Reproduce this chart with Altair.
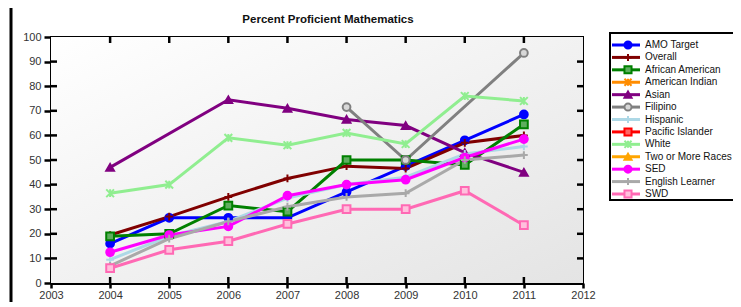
import altair as alt
import pandas as pd

years = [2004, 2005, 2006, 2007, 2008, 2009, 2010, 2011]

names = ["AMO Target", "Overall", "African American", "American Indian", "Asian",
         "Filipino", "Hispanic", "Pacific Islander", "White", "Two or More Races",
         "SED", "English Learner", "SWD"]

amo = [16.0, 26.5, 26.5, 26.5, 37.0, 47.5, 58.0, 68.5]
overall = [19.5, 27.0, 35.0, 42.5, 47.5, 46.5, 57.0, 60.0]
african_american = [19.0, 20.0, 31.5, 29.0, 50.0, 50.0, 48.0, 64.5]
american_indian = [None] * 8
asian = [47.0, None, 74.5, 71.0, 66.5, 64.0, 53.0, 45.0]
filipino = [None, None, None, None, 71.5, 50.0, None, 93.5]
hispanic = [9.5, 19.0, 25.0, 34.5, 40.0, 43.0, 52.5, 55.5]
pacific_islander = [None] * 8
white = [36.5, 40.0, 59.0, 56.0, 61.0, 56.5, 76.0, 74.0]
two_or_more = [None] * 8
sed = [12.5, 19.5, 23.0, 35.5, 40.0, 42.0, 51.0, 58.5]
english_learner = [7.0, 18.0, 25.0, 31.0, 35.0, 36.5, 50.0, 52.0]
swd = [6.0, 13.5, 17.0, 24.0, 30.0, 30.0, 37.5, 23.5]

series_values = [amo, overall, african_american, american_indian, asian, filipino,
                 hispanic, pacific_islander, white, two_or_more, sed,
                 english_learner, swd]

colors = ["#0000ff", "#800000", "#008000", "#ff8c00", "#800080", "#808080",
          "#add8e6", "#ff0000", "#90ee90", "#ffa500", "#ff00ff", "#a9a9a9", "#ff69b4"]
fills = ["#0000ff", "#800000", "#5fae5f", "#ff8c00", "#800080", "#d8d8d8",
         "#add8e6", "#ff6666", "#90ee90", "#ffa500", "#ff00ff", "#a9a9a9", "#ffc0dd"]
PLUS = "M-1,0H1M0,-1V1"
STAR = "M-1,-1L1,1M-1,1L1,-1M0,-1V1"
shapes = ["circle", PLUS, "square", STAR, "triangle-up", "circle", PLUS, "square",
          STAR, "triangle-up", "circle", PLUS, "square"]

x_ticks = list(range(2003, 2013))
y_ticks = list(range(0, 101, 10))

rows = []
for name, vals in zip(names, series_values):
    for yr, v in zip(years, vals):
        if v is not None:
            rows.append({"series": name, "year": yr, "value": v})
df = pd.DataFrame(rows)
legend_df = pd.DataFrame({"series": names})

W, H = 532, 246
FONT = "Liberation Sans"

color_s = alt.Color("series:N", scale=alt.Scale(domain=names, range=colors), legend=None)
fill_s = alt.Fill("series:N", scale=alt.Scale(domain=names, range=fills), legend=None)
shape_s = alt.Shape("series:N", scale=alt.Scale(domain=names, range=shapes), legend=None)

xq = alt.X("year:Q", scale=alt.Scale(domain=[2003, 2012], nice=False, zero=False),
           axis=alt.Axis(values=x_ticks, format="d", title=None, grid=False,
                         domainColor="black", domainWidth=3, tickColor="black",
                         tickWidth=2.5, tickSize=5, labelFont=FONT, labelFontSize=11,
                         labelColor="#333333", labelPadding=1, labelOverlap=False,
                         labelBound=False, labelFlush=False))
yq = alt.Y("value:Q", scale=alt.Scale(domain=[0, 100], nice=False),
           axis=alt.Axis(values=y_ticks, title=None, grid=False,
                         domainColor="black", domainWidth=3, tickColor="black",
                         tickWidth=2.5, tickSize=7, labelFont=FONT, labelFontSize=11,
                         labelColor="#333333", labelPadding=3, labelOverlap=False,
                         labelBound=False, labelFlush=False))

one = pd.DataFrame({"a": [0]})
bg = alt.Chart(one).mark_rect(
    fill=alt.Gradient(gradient="linear",
                      stops=[alt.GradientStop(color="#ffffff", offset=0),
                             alt.GradientStop(color="#e4e4e4", offset=1)],
                      x1=0, y1=0, x2=1, y2=1)
).encode(x=alt.value(0), x2=alt.value(W), y=alt.value(0), y2=alt.value(H))

xt = pd.DataFrame({"year": years})
yt = pd.DataFrame({"value": y_ticks[1:-1]})
top_ticks = alt.Chart(xt).mark_rule(color="black", strokeWidth=2.5).encode(
    x=xq, y=alt.value(0), y2=alt.value(6))
bot_ticks = alt.Chart(xt).mark_rule(color="black", strokeWidth=2.5).encode(
    x=xq, y=alt.value(H - 6), y2=alt.value(H))
left_ticks = alt.Chart(yt).mark_rule(color="black", strokeWidth=2.5).encode(
    y=yq, x=alt.value(0), x2=alt.value(6))
right_ticks = alt.Chart(yt).mark_rule(color="black", strokeWidth=2.5).encode(
    y=yq, x=alt.value(W - 6), x2=alt.value(W))

lines = alt.Chart(df).mark_line(strokeWidth=3).encode(
    x=xq, y=yq, color=color_s, detail="series:N", order="year:Q")
points = alt.Chart(df).mark_point(size=60, strokeWidth=2, opacity=1).encode(
    x=xq, y=yq, shape=shape_s, stroke=alt.Stroke("series:N",
    scale=alt.Scale(domain=names, range=colors), legend=None), fill=fill_s)

title = alt.Chart(one).mark_text(
    text="Percent Proficient Mathematics", font=FONT, fontSize=11.5,
    fontWeight="bold", color="#111111", align="center", baseline="middle"
).encode(x=alt.value(277), y=alt.value(-17))

side_bar = alt.Chart(one).mark_rule(color="black", strokeWidth=3).encode(
    x=alt.value(-40), y=alt.value(-37), y2=alt.value(270))

main = alt.layer(bg, top_ticks, bot_ticks, left_ticks, right_ticks, lines, points,
                 title, side_bar)

ly = alt.Y("series:N", scale=alt.Scale(type="point", domain=names, range=[8, 157],
                                       padding=0), axis=None)
lbox = alt.Chart(one).mark_rect(fill="white", stroke="black", strokeWidth=2).encode(
    x=alt.value(559), x2=alt.value(700), y=alt.value(-4), y2=alt.value(163))
lrule = alt.Chart(legend_df).mark_rule(strokeWidth=3).encode(
    x=alt.value(561), x2=alt.value(589), y=ly, color=color_s)
lpoint = alt.Chart(legend_df).mark_point(size=50, strokeWidth=2, opacity=1).encode(
    x=alt.value(577), y=ly, shape=shape_s,
    stroke=alt.Stroke("series:N", scale=alt.Scale(domain=names, range=colors),
                      legend=None), fill=fill_s)
ltext = alt.Chart(legend_df).mark_text(
    align="left", baseline="middle", font=FONT, fontSize=10, color="#111111"
).encode(x=alt.value(594), y=ly, text="series:N")
legend = alt.layer(lbox, lrule, lpoint, ltext)

chart = alt.layer(main, legend).resolve_scale(y="independent").properties(
    width=W, height=H,
    autosize=alt.AutoSizeParams(type="none"),
    padding={"left": 43, "top": 29, "right": 150, "bottom": 19},
).configure_view(stroke="black", strokeWidth=2)

chart.save("out.html", embed_options={"renderer": "svg", "actions": False})
